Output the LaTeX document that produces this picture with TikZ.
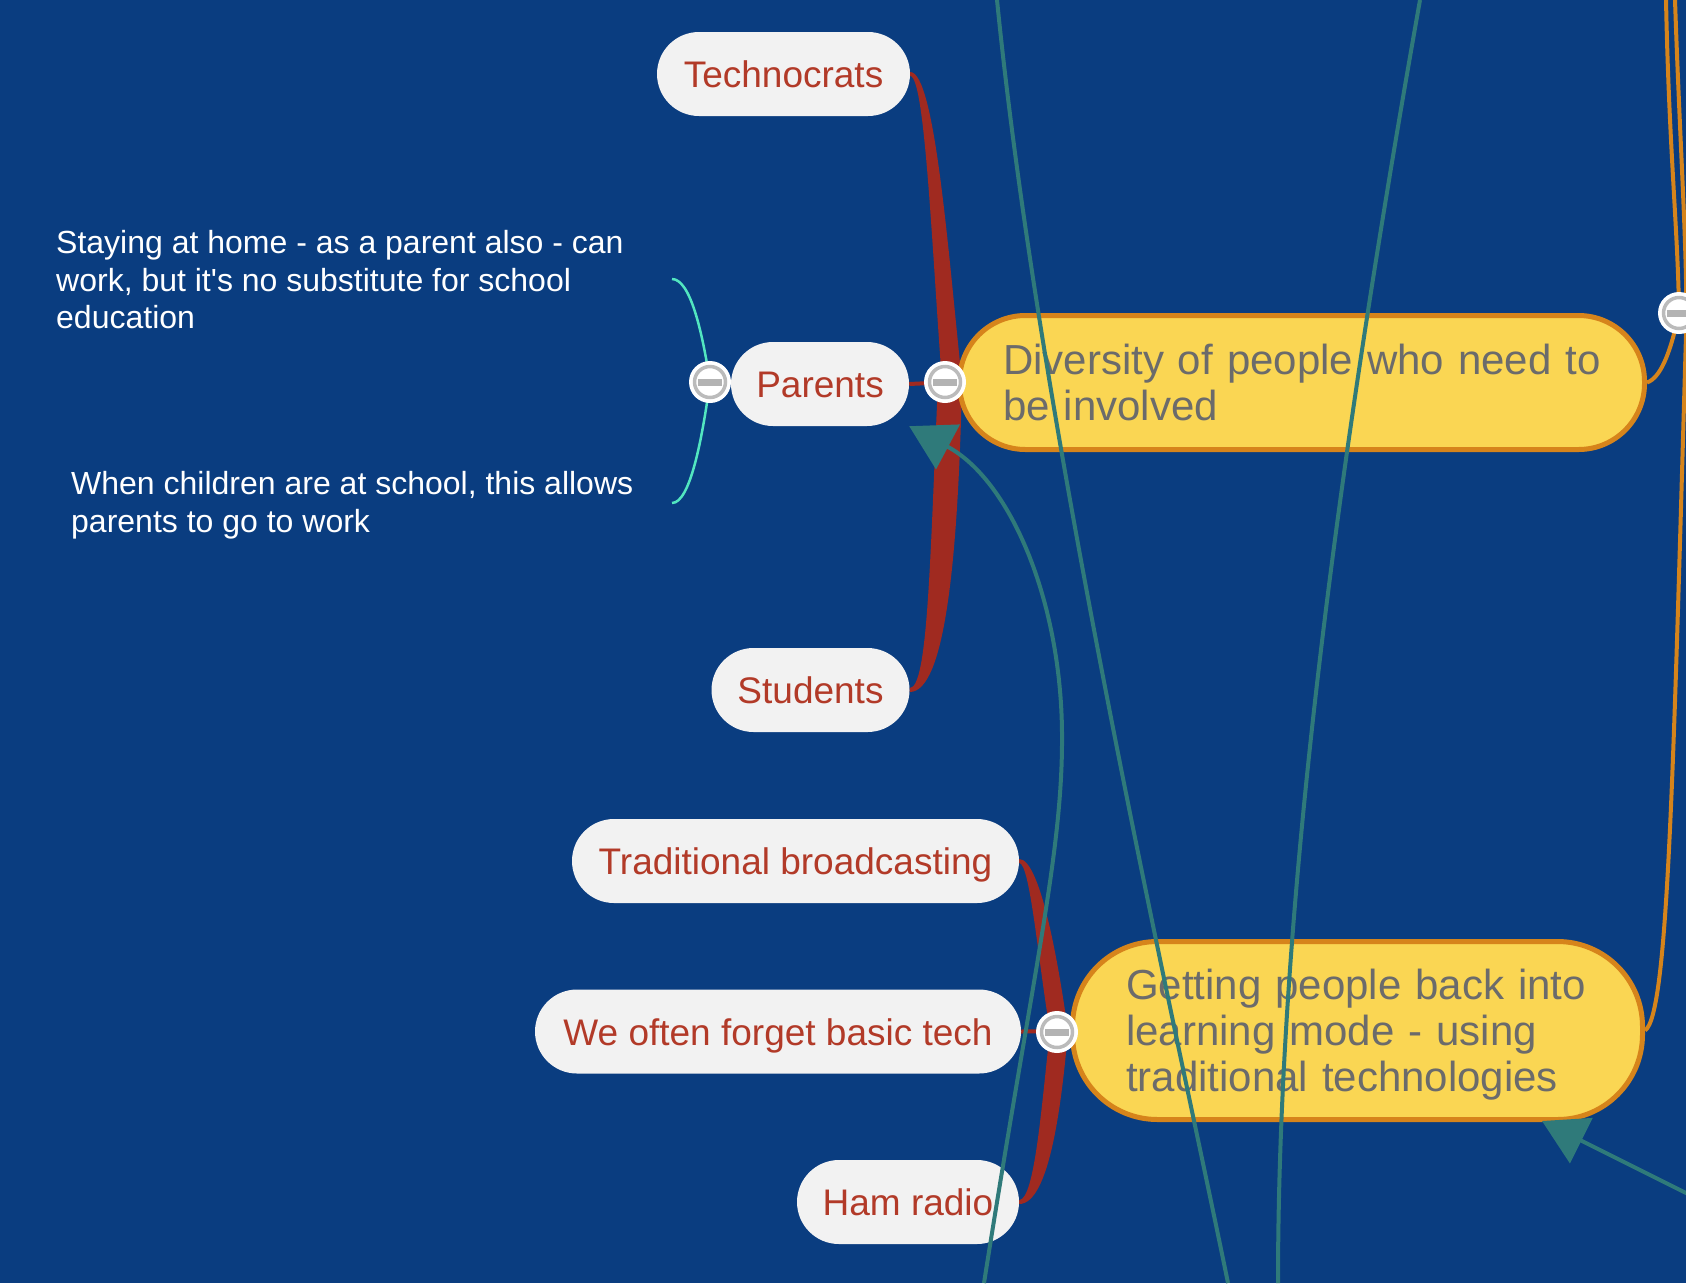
\documentclass[tikz,border=0pt]{standalone}
\usepackage{fontspec}
\setmainfont{Liberation Sans}
\usetikzlibrary{arrows.meta,calc}
\definecolor{bgblue}{HTML}{0A3D80}
\definecolor{childfill}{HTML}{F2F2F2}
\definecolor{childtext}{HTML}{B23A28}
\definecolor{topicfill}{HTML}{FAD653}
\definecolor{topicborder}{HTML}{D6841B}
\definecolor{topictext}{HTML}{6B6B6B}
\definecolor{branchred}{HTML}{A02A20}
\definecolor{relteal}{HTML}{2F7A7A}
\definecolor{notemint}{HTML}{52E6C0}
\definecolor{orangeline}{HTML}{D6841B}
\definecolor{btnring}{HTML}{BBBBBB}
\definecolor{btnbar}{HTML}{B3B3B3}
\pgfdeclarelayer{background}
\pgfsetlayers{background,main}
\begin{document}
\begin{tikzpicture}[x=1pt,y=-1pt,
  childnode/.style={rectangle, rounded corners=42pt, fill=childfill, text=childtext,
    font=\fontsize{37}{42}\selectfont, minimum height=84pt, inner sep=0pt,
    text height=27pt, text depth=0pt},
  topicnode/.style={rectangle, rounded corners=66pt, fill=topicfill, draw=topicborder,
    line width=5pt, text=topictext, font=\fontsize{42}{46}\selectfont, align=left, inner sep=0pt},
  notenode/.style={text=white, font=\fontsize{32}{37.5}\selectfont, align=left, inner sep=0pt, anchor=base west},
  collapse/.style={circle, fill=white, minimum size=42pt, inner sep=0pt,
    path picture={
      \draw[btnring, line width=3.5pt] (path picture bounding box.center) circle (15.5pt);
      \fill[btnbar] ($(path picture bounding box.center)+(-12,-3.5)$) rectangle ($(path picture bounding box.center)+(12,3.5)$);
    }},
  branch/.style={fill=branchred},
  thinbranch/.style={draw=branchred, line width=4pt},
  relation/.style={draw=relteal, line width=4pt},
  relarrow/.style={relation, -{Triangle[length=44pt,width=50pt]}},
  notelink/.style={draw=notemint, line width=2.5pt},
  orangelink/.style={draw=orangeline, line width=4pt},
]
\useasboundingbox (0,0) rectangle (1686,1283);
\begin{pgfonlayer}{background}
  \fill[bgblue] (0,0) rectangle (1686,1283);
\end{pgfonlayer}

% topics
\node[topicnode, minimum width=685pt, minimum height=134pt, text width=598pt] (diversity) at (1302,382.5)
  {Diversity of people who need to\\be involved};
\node[topicnode, rounded corners=85pt, minimum width=570pt, minimum height=178pt, text width=463pt] (getting) at (1357.5,1030.5)
  {\rule{0pt}{39pt}Getting people back into\\learning mode - using\\traditional technologies};

% children
\node[childnode, minimum width=253pt] (tech) at (783.5,74) {Technocrats};
\node[childnode, minimum width=178pt] (parents) at (820,384) {Parents};
\node[childnode, minimum width=198pt] (students) at (810.5,690) {Students};
\node[childnode, minimum width=447pt] (trad) at (795.5,861) {Traditional broadcasting};
\node[childnode, minimum width=486pt] (forget) at (778,1031.5) {We often forget basic tech};
\node[childnode, minimum width=222pt] (ham) at (908,1202) {Ham radio};

% notes (anchor = baseline of the last line)
\node[notenode] (note1) at (56,328.5) {Staying at home - as a parent also - can\\work, but it\textquotesingle s no substitute for school\\education};
\node[notenode] (note2) at (71,532) {When children are at school, this allows\\parents to go to work};

% collapse buttons
\node[collapse] (btnParents) at (710,382) {};
\node[collapse] (btnDiv) at (945,382) {};
\node[collapse] (btnGet) at (1057,1032) {};
\node[collapse] (btnTop) at (1679,313) {};

\coordinate (rootD) at (951,382);
\coordinate (rootG) at (1059,1031);
\coordinate (n1end) at (672,279);
\coordinate (n2end) at (672,503);
\coordinate (otop1) at (1666,0);
\coordinate (otop2) at (1675,0);

\begin{pgfonlayer}{background}
  % orange links
  \draw[orangelink] (diversity.east) .. controls (1660,378) and (1670,355) .. (btnTop.center);
  \draw[orangelink] (otop1) .. controls (1669,150) and (1678,230) .. (btnTop.center);
  \draw[orangelink] (otop2) .. controls (1680,150) and (1688,260) .. (1686,335)
     .. controls (1673,780) and (1668,1015) .. (getting.east);
  % red branches
  \fill[branch] ($(tech.east)+(0,-2)$) .. controls (935,72) and (948,250) .. ($(rootD)+(11,0)$)
     -- ($(rootD)+(-9,0)$) .. controls (932,250) and (925,76) .. ($(tech.east)+(0,2)$) -- cycle;
  \fill[branch] ($(students.east)+(0,-2)$) .. controls (928,688) and (930,560) .. ($(rootD)+(-13,0)$)
     -- ($(rootD)+(11,0)$) .. controls (958,560) and (945,692) .. ($(students.east)+(0,2)$) -- cycle;
  \draw[thinbranch] (parents.east) -- (rootD);
  \fill[branch] ($(trad.east)+(0,-2)$) .. controls (1040,859) and (1058,960) .. ($(rootG)+(9,0)$)
     -- ($(rootG)+(-9,0)$) .. controls (1038,960) and (1030,863) .. ($(trad.east)+(0,2)$) -- cycle;
  \fill[branch] ($(ham.east)+(0,-2)$) .. controls (1035,1200) and (1042,1100) .. ($(rootG)+(-9,0)$)
     -- ($(rootG)+(9,0)$) .. controls (1062,1100) and (1050,1204) .. ($(ham.east)+(0,2)$) -- cycle;
  \draw[thinbranch] (forget.east) -- (rootG);
  % note links
  \draw[notelink] (n1end) .. controls (690,279) and (702,330) .. (btnParents.center);
  \draw[notelink] (btnParents.center) .. controls (702,440) and (690,503) .. (n2end);
\end{pgfonlayer}

% relationship lines
\coordinate (aTop) at (997,0);
\coordinate (aBot) at (1228,1283);
\coordinate (bTop) at (1420,0);
\coordinate (bBot) at (1278,1283);
\coordinate (cBot) at (984,1283);
\coordinate (dStart) at (1700,1200);
\coordinate (dTip) at (1542,1121);
\draw[relation] (aTop) .. controls (1040,430) and (1170,1000) .. (aBot);
\draw[relation] (bTop) .. controls (1340,450) and (1278,900) .. (bBot);
\draw[relarrow] (cBot) .. controls (1035,960) and (1063,850) .. (1062,733)
   .. controls (1061,600) and (1010,480) .. (parents.south east);
\draw[relarrow] (dStart) -- (dTip);
\end{tikzpicture}
\end{document}
